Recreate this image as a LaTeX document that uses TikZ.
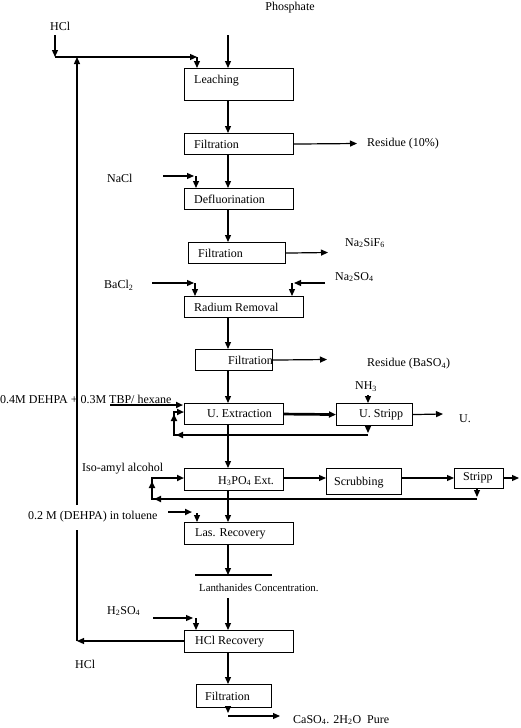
\documentclass[tikz,border=0pt]{standalone}
\usepackage{fontspec}
\setmainfont{Liberation Serif}
\usetikzlibrary{arrows.meta}
\begin{document}
\begin{tikzpicture}[x=1pt,y=-1pt,
  box/.style={draw, line width=1.1pt, anchor=north west, inner sep=0pt},
  lbl/.style={anchor=west, inner sep=0pt, font=\fontsize{12}{14}\selectfont},
  txt/.style={inner sep=0pt, font=\fontsize{12}{14}\selectfont},
  thinln/.style={line width=1.2pt},
  thickln/.style={line width=2.7pt},
  arr/.style={-{Triangle[length=7pt,width=6pt]}},
]
\useasboundingbox (0,0) rectangle (520,728);
\newcommand\pbox[5]{\node[box, minimum width=#4pt, minimum height=#5pt] (#1) at (#2,#3) {};}
% boxes
\pbox{leach}{184}{68}{109}{32}
\pbox{filta}{184}{133}{109}{21}
\pbox{deflu}{184}{188}{109}{21}
\pbox{filtb}{188}{242}{97}{21}
\pbox{radium}{184}{296}{119}{21}
\pbox{filtc}{195}{349}{77}{21}
\pbox{uext}{184}{403}{99}{21}
\pbox{ustr}{336}{403}{76}{22}
\pbox{hpo}{184}{468}{99}{22}
\pbox{scrub}{326}{468}{75}{26}
\pbox{stripp}{454}{468}{49}{20}
\pbox{las}{184}{522}{109}{22}
\pbox{hclr}{184}{630}{109}{22}
\pbox{filtd}{196}{684}{75}{23}
% box texts
\node[lbl] (leacht) at (194,81) {Leaching};
\node[lbl] (filtat) at (194,144) {Filtration};
\node[lbl] (deflut) at (194,199) {Defluorination};
\node[lbl] (filtbt) at (198,253) {Filtration};
\node[lbl] (radiumt) at (194,307) {Radium Removal};
\node[lbl] (filtct) at (228,360) {Filtration};
\node[lbl] (uextt) at (207,414) {U. Extraction};
\node[lbl] (ustrt) at (359,415) {U. Stripp};
\node[lbl] (hpot) at (218,481) {H\textsubscript{3}PO\textsubscript{4} Ext.};
\node[lbl] (scrubt) at (334,483) {Scrubbing};
\node[lbl] (strippt) at (463,478) {Stripp};
\node[lbl] (last) at (195,534) {Las. Recovery};
\node[lbl] (hclrt) at (195,642) {HCl Recovery};
\node[lbl] (filtdt) at (205,696) {Filtration};
% free labels
\node[txt] (phos) at (290,8) {Phosphate};
\node[lbl] (hcltop) at (50,26) {HCl};
\node[lbl] (resa) at (367,144) {Residue (10\%)};
\node[lbl] (nacl) at (107,178) {NaCl};
\node[lbl] (nasif) at (345,243) {Na\textsubscript{2}SiF\textsubscript{6}};
\node[lbl] (bacl) at (104,285) {BaCl\textsubscript{2}};
\node[lbl] (naso) at (335,277) {Na\textsubscript{2}SO\textsubscript{4}};
\node[lbl] (resb) at (367,364) {Residue (BaSO\textsubscript{4})};
\node[lbl] (hex) at (0,399) {0.4M DEHPA + 0.3M TBP/ hexane};
\node[txt] (nh) at (366,387) {NH\textsubscript{3}};
\node[lbl] (uu) at (459,419) {U.};
\node[lbl] (iso) at (82,469) {Iso-amyl alcohol};
\node[lbl] (tol) at (28,517) {0.2 M (DEHPA) in toluene};
\node[anchor=west, inner sep=0pt, font=\fontsize{10.8}{13}\selectfont] (lan) at (199,588) {Lanthanides Concentration.};
\node[lbl] (hso) at (107,611) {H\textsubscript{2}SO\textsubscript{4}};
\node[lbl] (hclbot) at (75,664) {HCl};
\node[lbl] (caso) at (293,720) {CaSO\textsubscript{4}. 2H\textsubscript{2}O~ Pure};
% coordinates
\coordinate (col) at (228,0);
\coordinate (hcla) at (55,35);
\coordinate (hclb) at (55,57);
\coordinate (ca) at (197,57);
\coordinate (phosa) at (228,35);
\coordinate (resaa) at (357,143.5);
\coordinate (nacla) at (163,176);
\coordinate (naclb) at (194,176);
\coordinate (naclc) at (196,176);
\coordinate (nasifa) at (328,252.5);
\coordinate (bacla) at (152,283);
\coordinate (baclb) at (194,283);
\coordinate (baclc) at (195,283);
\coordinate (nasoa) at (325,283);
\coordinate (nasob) at (294,283);
\coordinate (nasoc) at (292,283);
\coordinate (resba) at (327,359.5);
\coordinate (hexa) at (110,405);
\coordinate (hexb) at (183,405);
\coordinate (ua) at (443,414);
\coordinate (nha) at (368,395);
\coordinate (ura) at (368,433);
\coordinate (urb) at (368,435);
\coordinate (urc) at (174,435);
\coordinate (urd) at (174,412);
\coordinate (ure) at (184,412);
\coordinate (sra) at (519,478);
\coordinate (srb) at (477,497);
\coordinate (src) at (477,499);
\coordinate (srd) at (152,499);
\coordinate (sre) at (152,478);
\coordinate (tola) at (168,512);
\coordinate (tolb) at (192,512);
\coordinate (tolc) at (197,513);
\coordinate (lana) at (228,575);
\coordinate (lanl) at (195,575);
\coordinate (lanr) at (272,575);
\coordinate (lanb) at (228,598);
\coordinate (hsoa) at (153,618);
\coordinate (hsob) at (193,618);
\coordinate (hsoc) at (196,618);
\coordinate (reca) at (77,641);
\coordinate (recb) at (77,530);
\coordinate (recc) at (77,505);
\coordinate (recd) at (77,57);
\coordinate (fa) at (228,713);
\coordinate (fb) at (228,716);
\coordinate (fc) at (280,716);
% thin connectors
\draw[thinln,arr] (hcla) -- (hclb);
\draw[thinln,arr] (hclb) -- (ca);
\draw[thinln,arr] (ca) -- (ca |- leach.north);
\draw[thinln,arr] (phosa) -- (phosa |- leach.north);
\draw[thinln,arr] (col |- leach.south) -- (col |- filta.north);
\draw[thinln,arr] (filta.east) -- (resaa);
\draw[thinln,arr] (col |- filta.south) -- (col |- deflu.north);
\draw[thinln,arr] (nacla) -- (naclb);
\draw[thinln,arr] (naclc) -- (naclc |- deflu.north);
\draw[thinln,arr] (col |- deflu.south) -- (col |- filtb.north);
\draw[thinln,arr] (filtb.east) -- (nasifa);
\draw[thinln,arr] (bacla) -- (baclb);
\draw[thinln,arr] (baclc) -- (baclc |- radium.north);
\draw[thinln,arr] (nasoa) -- (nasob);
\draw[thinln,arr] (nasoc) -- (nasoc |- radium.north);
\draw[thinln,arr] (col |- radium.south) -- (col |- filtc.north);
\draw[thinln,arr] (filtc.east) -- (resba);
\draw[thinln,arr] (col |- filtc.south) -- (col |- uext.north);
\draw[thinln,arr] (ustr.east) -- (ua);
\draw[thinln,arr] (nha) -- (nha |- ustr.north);
\draw[thinln,arr] (nha |- ustr.south) -- (ura);
\draw[thinln,arr] (col |- uext.south) -- (col |- hpo.north);
\draw[thinln,arr] (hpo.east |- sra) -- (scrub.west |- sra);
\draw[thinln,arr] (scrub.east |- sra) -- (stripp.west |- sra);
\draw[thinln,arr] (stripp.east |- sra) -- (sra);
\draw[thinln,arr] (srb |- stripp.south) -- (srb);
\draw[thinln,arr] (col |- hpo.south) -- (col |- las.north);
\draw[thinln,arr] (tolc) -- (tolc |- las.north);
\draw[thinln,arr] (col |- las.south) -- (lana);
\draw[thinln] (lanl) -- (lanr);
\draw[thinln,arr] (lanb) -- (col |- hclr.north);
\draw[thinln,arr] (hsoa) -- (hsob);
\draw[thinln,arr] (hsoc) -- (hsoc |- hclr.north);
\draw[thinln,arr] (hclr.west |- reca) -- (reca);
\draw[thinln] (reca) -- (recb);
\draw[thinln,arr] (recc) -- (recd);
\draw[thinln,arr] (col |- hclr.south) -- (col |- filtd.north);
\draw[thinln,arr] (col |- filtd.south) -- (fa);
\draw[thinln,arr] (fb) -- (fc);
% thick connectors
\draw[thickln,arr] (hexa) -- (hexb);
\draw[thickln,arr] (uext.east) -- (ustr.west);
\draw[thickln,line join=miter,arr] (urb) -- (urc) -- (urd) -- (ure);
\draw[thickln,arr] (186,435) -- (176,435);
\draw[thickln,arr] (174,430) -- (174,414);
\draw[thickln,line join=miter,arr] (src) -- (srd) -- (sre) -- (hpo.west |- sre);
\draw[thickln,arr] (164,499) -- (154,499);
\draw[thickln,arr] (152,494) -- (152,481);
\draw[thickln,arr] (tola) -- (tolb);
\end{tikzpicture}
\end{document}
